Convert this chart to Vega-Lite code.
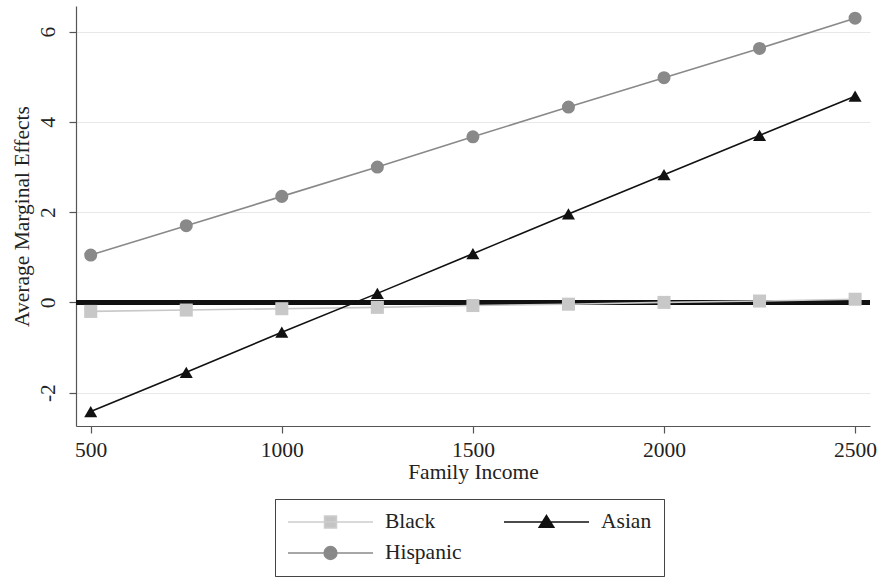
{
  "$schema": "https://vega.github.io/schema/vega-lite/v6.json",
  "autosize": "none",
  "width": 794,
  "height": 420,
  "padding": {"left": 76, "top": 6, "right": 9, "bottom": 151},
  "background": "white",
  "config": {
    "view": {"stroke": null},
    "font": "Liberation Serif",
    "axis": {
      "labelFont": "Liberation Serif",
      "titleFont": "Liberation Serif",
      "labelFontSize": 21.5,
      "titleFontSize": 21.5,
      "titleFontWeight": "normal",
      "labelColor": "#222",
      "titleColor": "#222",
      "domainColor": "#555",
      "tickColor": "#555",
      "tickSize": 7,
      "domainWidth": 1.2,
      "tickWidth": 1.2
    },
    "legend": {
      "labelFont": "Liberation Serif",
      "labelFontSize": 21.5,
      "labelColor": "#222"
    }
  },
  "data": {
    "values": [
      {"income": 500, "series": "Black", "ame": -0.2},
      {"income": 750, "series": "Black", "ame": -0.17},
      {"income": 1000, "series": "Black", "ame": -0.14},
      {"income": 1250, "series": "Black", "ame": -0.11},
      {"income": 1500, "series": "Black", "ame": -0.07},
      {"income": 1750, "series": "Black", "ame": -0.04},
      {"income": 2000, "series": "Black", "ame": 0.0},
      {"income": 2250, "series": "Black", "ame": 0.03},
      {"income": 2500, "series": "Black", "ame": 0.07},
      {"income": 500, "series": "Asian", "ame": -2.42},
      {"income": 750, "series": "Asian", "ame": -1.55},
      {"income": 1000, "series": "Asian", "ame": -0.66},
      {"income": 1250, "series": "Asian", "ame": 0.2},
      {"income": 1500, "series": "Asian", "ame": 1.08},
      {"income": 1750, "series": "Asian", "ame": 1.96},
      {"income": 2000, "series": "Asian", "ame": 2.83},
      {"income": 2250, "series": "Asian", "ame": 3.7},
      {"income": 2500, "series": "Asian", "ame": 4.57},
      {"income": 500, "series": "Hispanic", "ame": 1.05},
      {"income": 750, "series": "Hispanic", "ame": 1.7},
      {"income": 1000, "series": "Hispanic", "ame": 2.35},
      {"income": 1250, "series": "Hispanic", "ame": 3.0},
      {"income": 1500, "series": "Hispanic", "ame": 3.67},
      {"income": 1750, "series": "Hispanic", "ame": 4.33},
      {"income": 2000, "series": "Hispanic", "ame": 4.98},
      {"income": 2250, "series": "Hispanic", "ame": 5.63},
      {"income": 2500, "series": "Hispanic", "ame": 6.3}
    ]
  },
  "encoding": {
    "x": {
      "field": "income", "type": "quantitative",
      "scale": {"domain": [461.5, 2539], "nice": false, "zero": false},
      "axis": {"values": [500, 1000, 1500, 2000, 2500], "format": "d", "title": "Family Income", "grid": false, "labelPadding": 6, "titlePadding": 1}
    },
    "y": {
      "field": "ame", "type": "quantitative",
      "scale": {"domain": [-2.74, 6.57], "nice": false, "zero": false},
      "axis": {"values": [-2, 0, 2, 4, 6], "labelExpr": "'' + datum.value", "title": "Average Marginal Effects", "grid": true, "gridColor": "#e8e8e8", "gridWidth": 1.2, "labelAngle": 270, "labelAlign": "center", "labelBaseline": "bottom", "labelPadding": 10, "titlePadding": 4}
    }
  },
  "resolve": {"scale": {"shape": "independent"}},
  "layer": [
    {
      "mark": {"type": "rule", "color": "#111", "strokeWidth": 4},
      "encoding": {"y": {"datum": 0}, "x": null}
    },
    {
      "mark": {"type": "line", "strokeWidth": 1.6},
      "encoding": {
        "color": {
          "field": "series", "type": "nominal",
          "scale": {"domain": ["Asian", "Black", "Hispanic"], "range": ["#111111", "#c8c8c8", "#898989"]},
          "legend": null
        },
        "detail": {"field": "series"}
      }
    },
    {
      "mark": {"type": "point", "filled": true, "opacity": 1, "size": 170},
      "encoding": {
        "color": {
          "field": "series", "type": "nominal",
          "scale": {"domain": ["Asian", "Black", "Hispanic"], "range": ["#111111", "#c8c8c8", "#898989"]},
          "legend": null
        },
        "shape": {
          "field": "series", "type": "nominal",
          "scale": {"domain": ["Asian", "Black", "Hispanic"], "range": ["triangle-up", "square", "circle"]},
          "legend": null
        }
      }
    },
    {
      "transform": [{"filter": "datum.income < 0"}],
      "mark": {"type": "point", "filled": true, "opacity": 1},
      "encoding": {
        "fill": {
          "field": "series", "type": "nominal",
          "scale": {"domain": ["Black", "Hispanic", "Asian"], "range": ["#c4c4c4", "#888888", "#111111"]},
          "legend": {
            "title": null, "orient": "none", "legendX": 199, "legendY": 493,
            "columns": 2, "columnPadding": 41, "rowPadding": 9, "clipHeight": 22,
            "padding": 12, "strokeColor": "#444", "fillColor": "white",
            "symbolSize": 7225, "symbolStrokeWidth": 1.6, "labelOffset": 11,
            "symbolFillColor": {"expr": "datum.value === 'Black' ? '#c4c4c4' : datum.value === 'Asian' ? '#111111' : '#888888'"},
            "symbolStrokeColor": {"expr": "datum.value === 'Black' ? '#cdcdcd' : datum.value === 'Asian' ? '#111111' : '#8a8a8a'"}
          }
        },
        "stroke": {
          "field": "series", "type": "nominal",
          "scale": {"domain": ["Black", "Hispanic", "Asian"], "range": ["#cdcdcd", "#8a8a8a", "#111111"]},
          "legend": {
            "title": null, "orient": "none", "legendX": 199, "legendY": 493,
            "columns": 2, "columnPadding": 41, "rowPadding": 9, "clipHeight": 22,
            "padding": 12, "strokeColor": "#444", "fillColor": "white",
            "symbolSize": 7225, "symbolStrokeWidth": 1.6, "labelOffset": 11,
            "symbolFillColor": {"expr": "datum.value === 'Black' ? '#c4c4c4' : datum.value === 'Asian' ? '#111111' : '#888888'"},
            "symbolStrokeColor": {"expr": "datum.value === 'Black' ? '#cdcdcd' : datum.value === 'Asian' ? '#111111' : '#8a8a8a'"}
          }
        },
        "shape": {
          "field": "series", "type": "nominal",
          "scale": {"domain": ["Black", "Hispanic", "Asian"], "range": ["M-1,0H1M-0.14,-0.14H0.14V0.14H-0.14Z", "M-1,0H1M-0.15,0A0.15,0.15 0 1,0 0.15,0A0.15,0.15 0 1,0 -0.15,0Z", "M-1,0H1M0,-0.15L0.17,0.12L-0.17,0.12Z"]},
          "legend": {
            "title": null, "orient": "none", "legendX": 199, "legendY": 493,
            "columns": 2, "columnPadding": 41, "rowPadding": 9, "clipHeight": 22,
            "padding": 12, "strokeColor": "#444", "fillColor": "white",
            "symbolSize": 7225, "symbolStrokeWidth": 1.6, "labelOffset": 11,
            "symbolFillColor": {"expr": "datum.value === 'Black' ? '#c4c4c4' : datum.value === 'Asian' ? '#111111' : '#888888'"},
            "symbolStrokeColor": {"expr": "datum.value === 'Black' ? '#cdcdcd' : datum.value === 'Asian' ? '#111111' : '#8a8a8a'"}
          }
        }
      }
    }
  ]
}
